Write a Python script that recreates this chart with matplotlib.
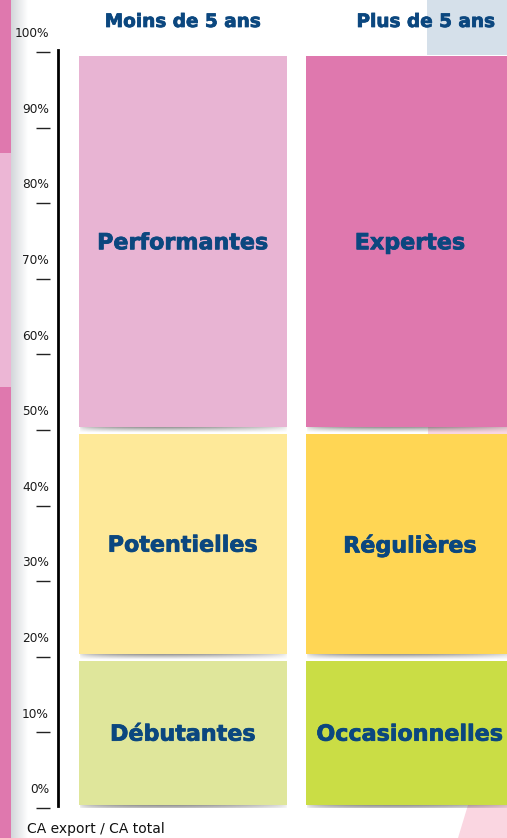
"""Matrice export : CA export / CA total selon l'ancienneté à l'export."""
import numpy as np
import matplotlib
matplotlib.use('Agg')
import matplotlib.pyplot as plt
import matplotlib.transforms as mtransforms
import matplotlib.patheffects as pe
from matplotlib.patches import Rectangle, Polygon

# Data
columns = ["Moins de 5 ans", "Plus de 5 ans"]
bounds = [0, 20, 50, 100]  # limites des tranches (% CA export / CA total)
labels = [["Débutantes", "Potentielles", "Performantes"],
          ["Occasionnelles", "Régulières", "Expertes"]]
colors = [["#DFE69B", "#FEE999", "#E8B4D3"],
          ["#CADD45", "#FFD654", "#DF78AE"]]
yticks = [0, 10, 20, 30, 40, 50, 60, 70, 80, 90, 100]
ylabel = "CA export / CA total"

TEXT = "#0B477F"
W, H = 507, 838
thick = [pe.withStroke(linewidth=0.55, foreground=TEXT)]

fig = plt.figure(figsize=(W / 100, H / 100), dpi=100)


def fx(x):
    return x / W


def fy(y):
    return 1 - y / H


# background bits of the page (left border strip, top-right block, pink shapes)
bg = dict(lw=0, zorder=-5)
fig.add_artist(Rectangle((0, fy(153)), fx(11), fy(0) - fy(153), color="#DF78AE", **bg))
fig.add_artist(Rectangle((0, fy(387)), fx(11), fy(153) - fy(387), color="#ECB6D5", **bg))
fig.add_artist(Rectangle((0, 0), fx(11), fy(387), color="#DF78AE", **bg))
fig.add_artist(Rectangle((fx(427), fy(55)), fx(80), fy(0) - fy(55), color="#D5E0EA", **bg))
fig.add_artist(Rectangle((fx(428), fy(436)), fx(79), fy(426) - fy(436), color="#F9D6E1", **bg))
fig.add_artist(Polygon([(fx(458), 0), (fx(468), fy(805)), (1, fy(805)), (1, 0)],
                       closed=True, color="#FAD6E1", **bg))
grad_ax = fig.add_axes([fx(11), 0, fx(17), 1])
grad = np.linspace(0, 1, 64)[None, :]
grad_ax.imshow(grad, cmap=matplotlib.colors.LinearSegmentedColormap.from_list(
    "g", ["#D3D6DA", "#FFFFFF"]), aspect="auto", extent=[0, 1, 0, 1])
grad_ax.axis("off")

# main axes: y in %, x = column index
ax = fig.add_axes([fx(58), fy(808), fx(507) - fx(58), fy(52) - fy(808)])
ax.patch.set_alpha(0)

bar_w = 0.916
gap_lo, gap_hi = 0.4, 0.5
for ci, col in enumerate(columns):
    for si in range(len(bounds) - 1):
        lo = bounds[si] + gap_lo
        hi = bounds[si + 1] - gap_hi
        ax.bar(ci, hi - lo, bottom=lo, width=bar_w, color=colors[ci][si],
               linewidth=0, zorder=3)
        # soft shadow under each block
        xs = np.linspace(0, 1, 200)
        prof = np.clip(np.sin(np.pi * xs) ** 0.4, 0, 1) * (1 - 0.4 * xs)
        vs = np.linspace(1, 0, 12)[:, None]
        alpha = 0.8 * prof[None, :] * vs ** 1.2
        img = np.zeros((12, 200, 4))
        img[..., :3] = 0.25
        img[..., 3] = alpha
        ax.imshow(img, extent=[ci - bar_w / 2, ci + bar_w / 2, lo - 0.85, lo],
                  aspect="auto", zorder=2, interpolation="bilinear")
        ax.text(ci, (bounds[si] + bounds[si + 1]) / 2 - 0.3, labels[ci][si],
                ha="center", va="center", fontsize=16, fontweight="bold",
                color=TEXT, zorder=4, path_effects=thick)

ax.set_xlim(-0.5497, 1.427)
ax.set_ylim(0, 100)

# axis line + detached ticks
for s in ["top", "right", "bottom"]:
    ax.spines[s].set_visible(False)
ax.spines["left"].set_linewidth(2)
ax.spines["left"].set_color("black")
ax.spines["left"].set_bounds(0.3, 100.2)
ax.set_xticks([])
ax.set_yticks([])

blend = mtransforms.blended_transform_factory(ax.transAxes, ax.transData)
ax.hlines(yticks, -0.049, -0.018, transform=blend, color="#222222",
          linewidth=1, clip_on=False)
for t in yticks:
    ax.annotate(f"{t}%", xy=(-0.02, t), xycoords=blend, xytext=(0, 8.5),
                textcoords="offset points", ha="right", va="bottom",
                fontsize=8.7, color="#1A1A1A", annotation_clip=False)

# column headers
fig.text(fx(183), fy(22), columns[0], ha="center", va="center",
         fontsize=13.3, fontweight="bold", color=TEXT, path_effects=thick)
fig.text(fx(426), fy(22), columns[1], ha="center", va="center",
         fontsize=13.3, fontweight="bold", color=TEXT, path_effects=thick)

fig.text(fx(27), fy(829), ylabel, ha="left", va="center", fontsize=10,
         color="#111111")

plt.savefig("out.png", dpi=100)
